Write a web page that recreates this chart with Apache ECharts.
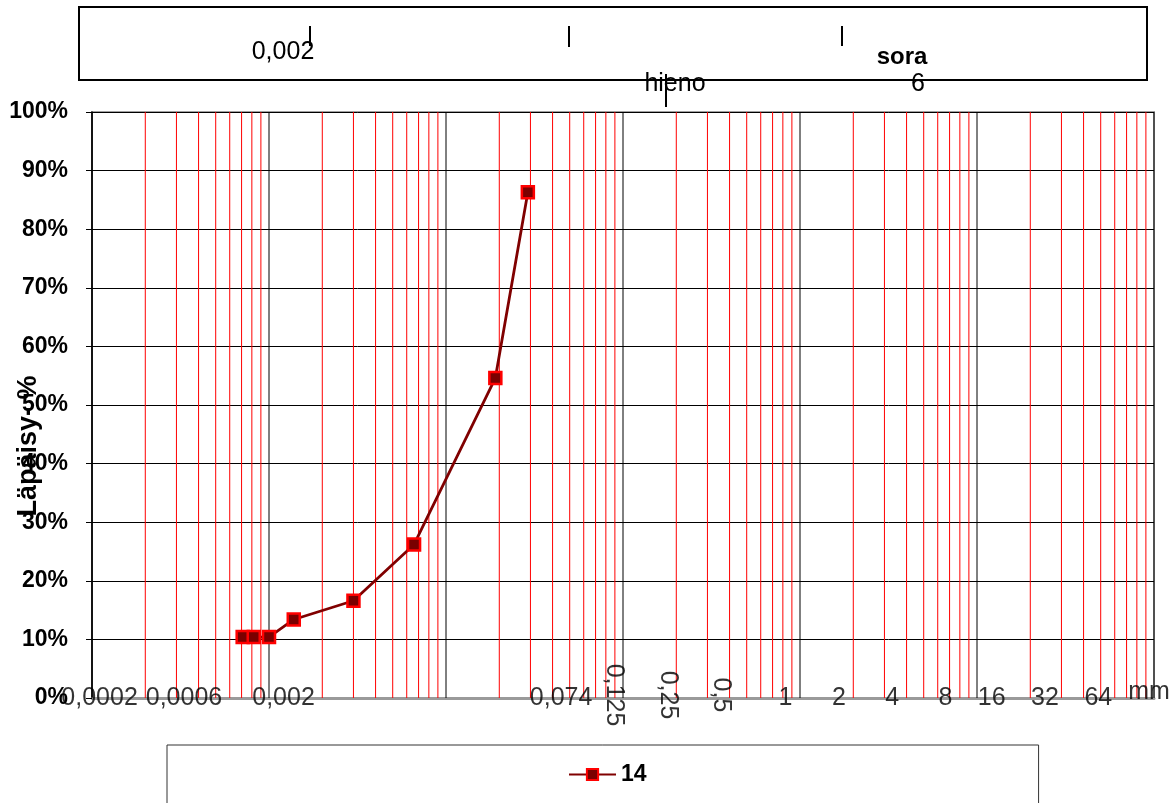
<!DOCTYPE html>
<html><head><meta charset="utf-8">
<script src="https://cdn.jsdelivr.net/npm/echarts@6/dist/echarts.min.js"></script>
<style>html,body{margin:0;padding:0;background:#fff}#c{width:1173px;height:803px}</style>
</head><body><div id="c"></div>
<script>
// ---- data ----
const seriesName = '14';
const grainSizeMm = [0.00071, 0.00082, 0.001, 0.00138, 0.0030, 0.0066, 0.019, 0.029];
const passingPct = [10.4, 10.4, 10.4, 13.4, 16.6, 26.2, 54.6, 86.3];
const tickValues = [0.0002, 0.0006, 0.002, 0.074, 0.125, 0.25, 0.5, 1, 2, 4, 8, 16, 32, 64];
const tickLabels = ['0,0002', '0,0006', '0,002', '0,074', '0,125', '0,25', '0,5', '1', '2', '4', '8', '16', '32', '64'];
const rotatedLabels = ['0,125', '0,25', '0,5'];
const unitLabel = 'mm';
const axisName = 'Läpäisy- %';

const FONT = '"Liberation Sans", Arial, sans-serif';
const chart = echarts.init(document.getElementById('c'), null, {renderer: 'canvas'});

// vertical log grid lines (1..9 per decade)
const gridValues = [];
for (let k = -4; k <= 1; k++) for (let m = 1; m <= 9; m++) gridValues.push(m * Math.pow(10, k));
gridValues.push(100);
const isDecade = v => Math.abs(Math.log10(v) - Math.round(Math.log10(v))) < 1e-9;

const labelData = tickValues.map((v, i) => {
  const rot = rotatedLabels.includes(tickLabels[i]);
  return {
    value: [v, 0], name: tickLabels[i],
    label: rot ? {rotate: -90, position: 'inside', offset: [-3, 26]} : {}
  };
});
labelData.push({value: [100, 0], name: unitLabel, label: {position: 'inside', offset: [-5, -6]}});

const option = {
  animation: false,
  backgroundColor: '#ffffff',
  textStyle: {fontFamily: FONT},
  grid: {left: 92, right: 19, top: 112, bottom: 105, containLabel: false, outerBoundsMode: 'none',
         show: true, borderColor: '#a0a0a0', borderWidth: 2, backgroundColor: 'transparent'},
  legend: {
    data: [seriesName], left: 167, top: 745,
    padding: [18, 392, 40, 401],
    borderColor: '#333', borderWidth: 1,
    itemWidth: 47, itemHeight: 14,
    textStyle: {fontSize: 23, fontWeight: 'bold', color: '#000', fontFamily: FONT}
  },
  xAxis: {
    type: 'log', logBase: 10, min: 0.0001, max: 100,
    axisLabel: {show: false}, axisTick: {show: false}, splitLine: {show: false}, minorSplitLine: {show: false},
    axisLine: {show: true, lineStyle: {color: '#9a9a9a', width: 3}}
  },
  yAxis: {
    type: 'value', min: 0, max: 100, interval: 10,
    name: axisName, nameLocation: 'middle', nameGap: 50, nameRotate: 90, nameMoveOverlap: false,
    nameTextStyle: {fontSize: 27, fontWeight: 'bold', color: '#000', fontFamily: FONT, padding: [0, 82, 0, 0]},
    axisLabel: {formatter: '{value}%', fontSize: 23, fontWeight: 'bold', color: '#000', margin: 24, fontFamily: FONT},
    axisLine: {show: true, lineStyle: {color: '#000', width: 1.5}},
    axisTick: {show: true, length: 6, lineStyle: {color: '#000', width: 1}},
    splitLine: {show: true, lineStyle: {color: '#000', width: 1}}
  },
  series: [
    {
      name: 'grid', type: 'custom', silent: true, z: 1, clip: false,
      data: gridValues,
      renderItem: function (params, api) {
        const v = api.value(0);
        const p0 = api.coord([v, 0]);
        const p1 = api.coord([v, 100]);
        return {
          type: 'line',
          shape: {x1: p0[0], y1: p0[1], x2: p1[0], y2: p1[1]},
          style: {stroke: isDecade(v) ? '#000000' : '#ff0000', lineWidth: 1}
        };
      },
      encode: {x: 0}
    },
    {
      name: 'ticks', type: 'scatter', silent: true, clip: false, z: 3,
      symbolSize: 1, itemStyle: {color: 'rgba(0,0,0,0)'},
      label: {show: true, formatter: '{b}', position: 'left', distance: 7, fontSize: 25, color: '#000', fontFamily: FONT},
      data: labelData
    },
    {
      name: seriesName, type: 'line', z: 10,
      data: grainSizeMm.map((x, i) => [x, passingPct[i]]),
      symbol: 'rect', symbolSize: 12, showAllSymbol: true,
      lineStyle: {color: '#800000', width: 2.8},
      itemStyle: {color: '#7a0000', borderColor: '#ff0000', borderWidth: 2.5}
    }
  ],
  graphic: [
    {type: 'rect', shape: {x: 79, y: 7, width: 1068, height: 73}, style: {fill: 'none', stroke: '#000', lineWidth: 2}},
    {type: 'line', shape: {x1: 310, y1: 26, x2: 310, y2: 46}, style: {stroke: '#000', lineWidth: 2}},
    {type: 'line', shape: {x1: 569, y1: 26, x2: 569, y2: 47}, style: {stroke: '#000', lineWidth: 2}},
    {type: 'line', shape: {x1: 842, y1: 26, x2: 842, y2: 46}, style: {stroke: '#000', lineWidth: 2}},
    {type: 'line', shape: {x1: 666, y1: 74, x2: 666, y2: 107}, style: {stroke: '#000', lineWidth: 2}},
    {type: 'text', x: 283, y: 52, style: {text: '0,002', font: '25px ' + FONT, fill: '#000', align: 'center', verticalAlign: 'middle'}},
    {type: 'text', x: 902, y: 57, style: {text: 'sora', font: 'bold 24px ' + FONT, fill: '#000', align: 'center', verticalAlign: 'middle'}},
    {type: 'text', x: 675, y: 84, style: {text: 'hieno', font: '25px ' + FONT, fill: '#000', align: 'center', verticalAlign: 'middle'}},
    {type: 'text', x: 918, y: 84, style: {text: '6', font: '25px ' + FONT, fill: '#000', align: 'center', verticalAlign: 'middle'}}
  ]
};
chart.setOption(option);
</script>
</body></html>
